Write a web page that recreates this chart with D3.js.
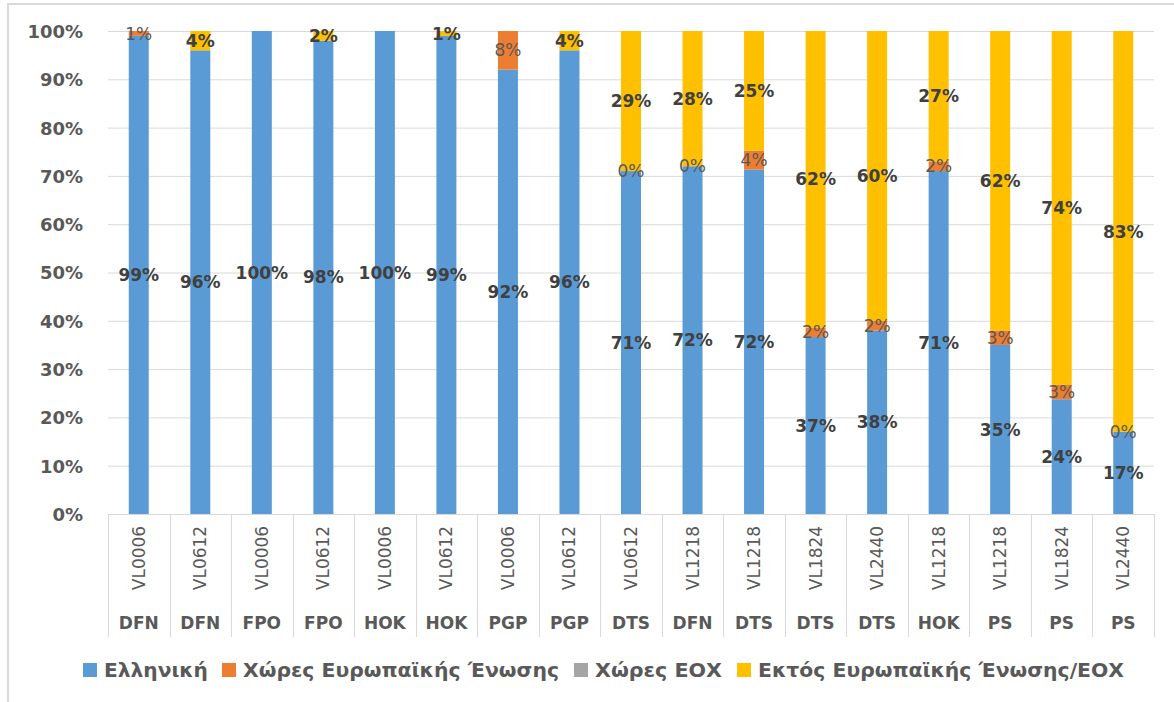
<!DOCTYPE html>
<html>
<head>
<meta charset="utf-8">
<script src="https://cdn.jsdelivr.net/npm/d3@7"></script>
<style>
  html, body { margin: 0; padding: 0; background: #fff; }
  svg { display: block; }
  text { font-family: "DejaVu Sans", "Noto Sans", sans-serif; }
</style>
</head>
<body>
<svg id="chart" width="1174" height="702"></svg>
<script>
// ---- data ----
const codes  = ["VL0006","VL0612","VL0006","VL0612","VL0006","VL0612","VL0006","VL0612","VL0612","VL1218","VL1218","VL1824","VL2440","VL1218","VL1218","VL1824","VL2440"];
const groups = ["DFN","DFN","FPO","FPO","HOK","HOK","PGP","PGP","DTS","DFN","DTS","DTS","DTS","HOK","PS","PS","PS"];
const seriesNames = ["Ελληνική","Χώρες Ευρωπαϊκής Ένωσης","Χώρες ΕΟΧ","Εκτός Ευρωπαϊκής Ένωσης/ΕΟΧ"];
const greek   = [99, 96, 100, 98, 100, 99, 92, 96, 71, 72, 72, 37, 38, 71, 35, 24, 17];
const eu      = [1, null, null, null, null, null, 8, null, 0, 0, 4, 2, 2, 2, 3, 3, 0];
const eox     = [null, null, null, null, null, null, null, null, null, null, null, null, null, null, null, null, null];
const nonEu   = [null, 4, null, 2, null, 1, null, 4, 29, 28, 25, 62, 60, 27, 62, 74, 83];
const yTicks  = [0, 0.1, 0.2, 0.3, 0.4, 0.5, 0.6, 0.7, 0.8, 0.9, 1];
const colors  = ["#5B9BD5", "#ED7D31", "#A5A5A5", "#FFC000"];

(function () {
const seriesValues = [greek, eu, eox, nonEu];
const keys = ["s0","s1","s2","s3"];
const rows = codes.map((c, i) => {
  const r = { idx: i, code: c, group: groups[i] };
  keys.forEach((k, j) => { r[k] = seriesValues[j][i] == null ? 0 : seriesValues[j][i]; });
  return r;
});

// ---- layout ----
const svg = d3.select("#chart");
const pL = 108, pR = 1154, pT = 31, pB = 514;

const x = d3.scaleBand().domain(d3.range(codes.length)).range([pL, pR])
  .paddingInner(0.675).paddingOuter(0.3375);
const y = d3.scaleLinear().domain([0, 1]).range([pB, pT]);

// outer frame
svg.append("path")
  .attr("d", `M8,702 L8,4 L1174,4`)
  .attr("fill", "none").attr("stroke", "#d9d9d9").attr("stroke-width", 2);

// gridlines
const yAxis = d3.axisLeft(y).tickValues(yTicks).tickFormat(d3.format(".0%"))
  .tickSize(-(pR - pL)).tickPadding(25);
const gy = svg.append("g").attr("transform", `translate(${pL},0)`).call(yAxis);
gy.select(".domain").remove();
gy.selectAll(".tick line").attr("stroke", "#d9d9d9").attr("stroke-width", 1);
gy.selectAll(".tick text")
  .attr("fill", "#595959").attr("font-size", 18).attr("font-weight", 700)
  .attr("font-family", "DejaVu Sans")
  .attr("dy", "0.36em");

// stacked bars
const stack = d3.stack().keys(keys).offset(d3.stackOffsetExpand);
const stacked = stack(rows);

const layers = svg.append("g").selectAll("g").data(stacked).join("g")
  .attr("fill", (d, i) => colors[i]);
layers.selectAll("rect").data(d => d).join("rect")
  .attr("x", (d) => x(d.data.idx))
  .attr("width", x.bandwidth())
  .attr("y", d => y(d[1]))
  .attr("height", d => Math.max(0, y(d[0]) - y(d[1])));

// x-axis line & category separators
svg.append("line").attr("x1", pL).attr("x2", pR).attr("y1", pB + 0.5).attr("y2", pB + 0.5)
  .attr("stroke", "#d9d9d9");
svg.append("g").selectAll("line").data(d3.range(codes.length + 1)).join("line")
  .attr("x1", i => Math.round(pL + i * x.step()) + 0.5)
  .attr("x2", i => Math.round(pL + i * x.step()) + 0.5)
  .attr("y1", pB).attr("y2", 637)
  .attr("stroke", "#d9d9d9");

// category labels
const cx = i => x(i) + x.bandwidth() / 2;
svg.append("g").selectAll("text").data(codes).join("text")
  .attr("transform", (d, i) => `translate(${cx(i) + 6},558) rotate(-90)`)
  .attr("text-anchor", "middle")
  .attr("fill", "#595959").attr("font-size", 17)
  .text(d => d);
svg.append("g").selectAll("text").data(groups).join("text")
  .attr("x", (d, i) => cx(i)).attr("y", 623).attr("dy", "0.36em")
  .attr("text-anchor", "middle")
  .attr("fill", "#595959").attr("font-size", 17).attr("font-weight", 700)
  .text(d => d);

// data labels
stacked.forEach((layer, j) => {
  const vals = seriesValues[j];
  svg.append("g").selectAll("text")
    .data(layer.filter(d => vals[d.data.idx] != null))
    .join("text")
    .attr("x", d => cx(d.data.idx))
    .attr("y", d => y((d[0] + d[1]) / 2))
    .attr("dy", "0.36em")
    .attr("text-anchor", "middle")
    .attr("fill", j === 1 ? "#595959" : "#404040")
    .attr("font-size", 17)
    .attr("font-weight", j === 1 ? 400 : 700)
    .text(d => vals[d.data.idx] + "%");
});

// legend
const legendX = [83, 222, 574, 737];
const legendW = [104, 316, 127, 366];
const lg = svg.append("g").selectAll("g").data(seriesNames).join("g")
  .attr("transform", (d, i) => `translate(${legendX[i]},663)`);
lg.append("rect").attr("width", 14).attr("height", 14).attr("fill", (d, i) => colors[i]);
lg.append("text").attr("x", 21).attr("y", 7).attr("dy", "0.36em")
  .attr("font-family", "'Open Sans', 'Noto Sans', sans-serif")
  .attr("fill", "#595959").attr("font-size", 19).attr("font-weight", 600)
  .attr("textLength", (d, i) => legendW[i]).attr("lengthAdjust", "spacingAndGlyphs")
  .text(d => d);
})();
</script>
</body>
</html>
